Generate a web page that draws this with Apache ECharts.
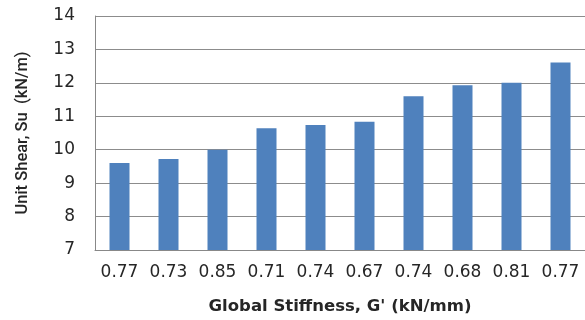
<!DOCTYPE html>
<html>
<head>
<meta charset="utf-8">
<script src="https://cdn.jsdelivr.net/npm/echarts@6/dist/echarts.min.js"></script>
<style>html,body{margin:0;padding:0;background:#fff}#c{width:585px;height:320px}</style>
</head>
<body>
<div id="c"></div>
<script>
const categories = ['0.77','0.73','0.85','0.71','0.74','0.67','0.74','0.68','0.81','0.77'];
const unitShear = [9.60, 9.72, 10.00, 10.64, 10.74, 10.84, 11.60, 11.93, 12.00, 12.61];
const yMin = 7, yMax = 14, yStep = 1;

const chart = echarts.init(document.getElementById('c'), null, {renderer: 'canvas'});
chart.setOption({
  animation: false,
  backgroundColor: '#ffffff',
  grid: {left: 95, top: 16, right: -3, bottom: 57, containLabel: false},
  xAxis: {
    type: 'category',
    data: categories,
    name: "Global Stiffness, G' (kN/mm)",
    nameLocation: 'middle',
    nameGap: 48,
    nameTextStyle: {fontFamily: 'DejaVu Sans', fontWeight: 'bold', fontSize: 16.5, color: '#262626'},
    axisLine: {lineStyle: {color: '#888888', width: 1}},
    axisTick: {show: false},
    axisLabel: {fontFamily: 'DejaVu Sans', fontSize: 17, color: '#262626', margin: 14, interval: 0}
  },
  yAxis: {
    type: 'value',
    min: yMin, max: yMax, interval: yStep,
    name: 'Unit Shear, Su  (kN/m)',
    nameLocation: 'middle',
    nameGap: 64,
    nameRotate: 90,
    nameTextStyle: {fontFamily: 'Roboto', fontWeight: 500, fontSize: 16.5, color: '#262626'},
    axisLine: {show: true, lineStyle: {color: '#888888', width: 1}},
    axisTick: {show: false},
    splitLine: {lineStyle: {color: '#8c8c8c', width: 1}},
    axisLabel: {fontFamily: 'DejaVu Sans', fontSize: 17, color: '#262626', margin: 20}
  },
  series: [{
    type: 'bar',
    data: unitShear,
    barWidth: 20,
    itemStyle: {color: '#4F81BD'}
  }]
});
</script>
</body>
</html>
